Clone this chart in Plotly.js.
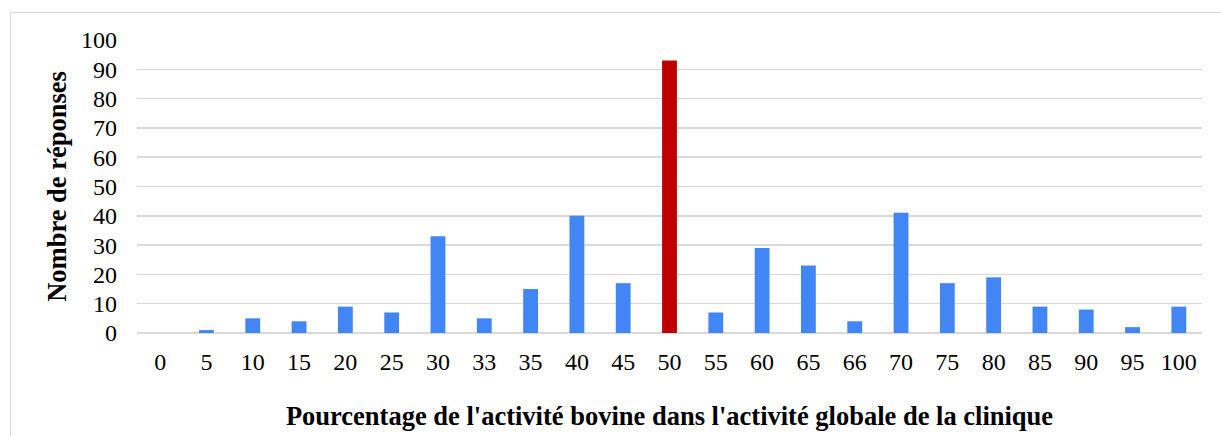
<!DOCTYPE html>
<html><head><meta charset="utf-8">
<script src="https://cdn.plot.ly/plotly-3.0.1.min.js"></script>
<style>
html,body{margin:0;padding:0;background:#fff;overflow:hidden;}
#frame{position:absolute;left:10px;top:12px;width:1230px;height:440px;border:1px solid #d9d9d9;box-sizing:border-box;pointer-events:none;z-index:5;}
#chart{width:1221px;height:436px;}
</style></head>
<body>
<div id="frame"></div>
<div id="chart"></div>
<script>
const categories = ["0","5","10","15","20","25","30","33","35","40","45","50","55","60","65","66","70","75","80","85","90","95","100"];
const responses = [0,1,5,4,9,7,33,5,15,40,17,93,7,29,23,4,41,17,19,9,8,2,9];
const highlightCategory = "50";
const xTitle = "Pourcentage de l'activité bovine dans l'activité globale de la clinique";
const yTitle = "Nombre de réponses";

const colors = categories.map(c => c === highlightCategory ? "#C00000" : "#4285F4");
const font = "Times New Roman, Liberation Serif, serif";

Plotly.newPlot("chart", [{
  type: "bar",
  x: categories,
  y: responses,
  marker: {color: colors, line: {width: 0}},
  hoverinfo: "x+y"
}], {
  width: 1221, height: 436,
  margin: {l: 137, r: 19, t: 40, b: 103},
  paper_bgcolor: "#fff", plot_bgcolor: "#fff",
  bargap: 0.68,
  showlegend: false,
  font: {family: font, color: "#000", size: 24},
  xaxis: {
    type: "category",
    tickfont: {family: font, size: 24, color: "#000"},
    ticks: "", showgrid: false, showline: false, zeroline: false,
    ticklabelstandoff: 12,
    title: {text: xTitle, font: {family: font, size: 26.5, color: "#000", weight: "bold"}, standoff: 32},
    automargin: false
  },
  yaxis: {
    range: [0, 100], dtick: 10,
    tickfont: {family: font, size: 24, color: "#000"},
    ticks: "", showline: false,
    gridcolor: "#d9d9d9", gridwidth: 1.5,
    zeroline: true, zerolinecolor: "#d9d9d9", zerolinewidth: 1.5,
    ticklabelstandoff: 19,
    title: {text: yTitle, font: {family: font, size: 26.5, color: "#000", weight: "bold"}, standoff: 6},
    automargin: false
  }
}, {displayModeBar: false, staticPlot: true});
</script>
</body></html>
